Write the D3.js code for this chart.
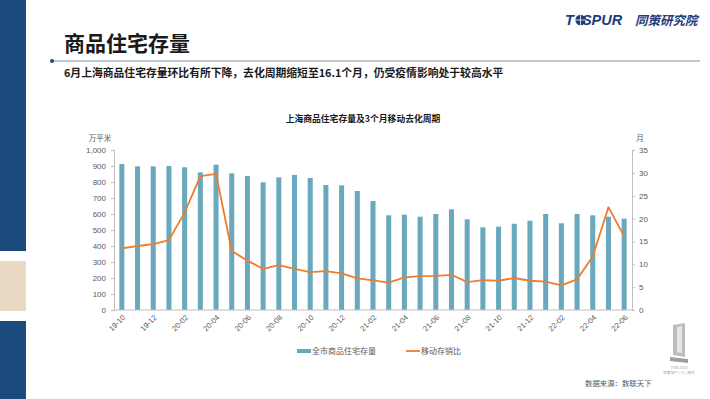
<!DOCTYPE html>
<html>
<head>
<meta charset="utf-8">
<script src="https://cdn.jsdelivr.net/npm/d3@7"></script>
<style>
  body { margin: 0; background: #fff; }
  svg { display: block; font-family: "Open Sans", "Noto Sans CJK SC", sans-serif; }
</style>
</head>
<body>
<script>
const months = ['19-10','19-11','19-12','20-01','20-02','20-03','20-04','20-05','20-06','20-07','20-08',
  '20-09','20-10','20-11','20-12','21-01','21-02','21-03','21-04','21-05','21-06','21-07','21-08',
  '21-09','21-10','21-11','21-12','22-01','22-02','22-03','22-04','22-05','22-06'];
// 全市商品住宅存量 (万平米)
const stock = [912, 898, 898, 900, 892, 860, 908, 854, 837, 798, 829, 844, 825, 781, 779, 744, 681,
  592, 596, 583, 600, 629, 567, 517, 521, 539, 558, 600, 542, 600, 592, 583, 571];
// 移动存销比 (月)
const ratio = [13.5, 14.0, 14.4, 15.3, 21.3, 29.3, 29.8, 12.9, 10.8, 9.0, 9.8, 9.0, 8.3, 8.5, 8.0,
  6.9, 6.5, 6.0, 7.15, 7.4, 7.45, 7.7, 6.1, 6.55, 6.4, 7.0, 6.4, 6.2, 5.4, 6.7, 11.7, 22.5, 16.1];
const leftTicks = [0, 100, 200, 300, 400, 500, 600, 700, 800, 900, 1000];
const rightTicks = [0, 5, 10, 15, 20, 25, 30, 35];
const xLabels = months.filter((d, i) => i % 2 === 0);

const W = 710, H = 399;
const svg = d3.select('body').append('svg').attr('width', W).attr('height', H);

// slide frame
svg.append('rect').attr('x', 0).attr('y', 0).attr('width', 26).attr('height', 251).attr('fill', '#1d4a7c');
svg.append('rect').attr('x', 0).attr('y', 261).attr('width', 26).attr('height', 50).attr('fill', '#e9dac4');
svg.append('rect').attr('x', 0).attr('y', 321).attr('width', 26).attr('height', 78).attr('fill', '#1d4a7c');

svg.append('text').attr('x', 64).attr('y', 51)
  .style('font-size', '21px').style('font-weight', 'bold').attr('fill', '#1a1a1a')
  .style('font-family', '"Noto Sans CJK SC", sans-serif')
  .text('商品住宅存量');
svg.append('line').attr('x1', 52).attr('x2', 700).attr('y1', 61).attr('y2', 61)
  .attr('stroke', '#5b7192').attr('stroke-width', 0.8);
svg.append('circle').attr('cx', 52).attr('cy', 61).attr('r', 2).attr('fill', '#1d4a7c');
svg.append('text').attr('x', 64).attr('y', 77)
  .style('font-size', '10.8px').style('font-weight', 'bold').attr('fill', '#1a1a1a')
  .style('font-family', '"Noto Sans CJK SC", sans-serif')
  .text('6月上海商品住宅存量环比有所下降，去化周期缩短至16.1个月，仍受疫情影响处于较高水平');

// top-right logo
const logo = svg.append('g').attr('transform', 'translate(565,25)');
logo.append('text').attr('x', 0).attr('y', 0)
  .style('font-size', '14.5px').style('font-weight', 'bold').style('font-style', 'italic')
  .style('font-family', '"Liberation Sans", Arial, sans-serif')
  .attr('fill', '#1f3c78').text('T\u00A0\u00A0SPUR');
logo.append('circle').attr('cx', 15.5).attr('cy', -5).attr('r', 5.2).attr('fill', '#1f3c78');
logo.append('line').attr('x1', 10).attr('x2', 21).attr('y1', -5).attr('y2', -5).attr('stroke', '#fff').attr('stroke-width', 0.8);
logo.append('line').attr('x1', 15.5).attr('x2', 15.5).attr('y1', -10).attr('y2', 0).attr('stroke', '#fff').attr('stroke-width', 0.8);
logo.append('text').attr('x', 70).attr('y', -0.5)
  .style('font-size', '12.5px').style('font-weight', 'bold').style('font-style', 'italic')
  .style('font-family', '"Noto Sans CJK SC", sans-serif')
  .attr('fill', '#1f3c78').text('同策研究院');

// chart
const margin = { top: 150, right: 78, bottom: 89, left: 114 };
const width = W - margin.left - margin.right;
const height = H - margin.top - margin.bottom;

svg.append('text').attr('x', 363).attr('y', 122).attr('text-anchor', 'middle')
  .style('font-size', '8.8px').style('font-weight', 'bold').attr('fill', '#1a1a1a')
  .style('font-family', '"Noto Sans CJK SC", sans-serif')
  .text('上海商品住宅存量及3个月移动去化周期');

const g = svg.append('g').attr('transform', `translate(${margin.left},${margin.top})`);

const xScale = d3.scaleBand().domain(months).range([0, width]).paddingInner(0.68).paddingOuter(0.34);
const yLeft = d3.scaleLinear().domain([0, 1000]).range([height, 0]);
const yRight = d3.scaleLinear().domain([0, 35]).range([height, 0]);

g.selectAll('.bar')
  .data(stock)
  .enter()
  .append('rect')
  .attr('class', 'bar')
  .attr('x', (d, i) => xScale(months[i]))
  .attr('width', xScale.bandwidth())
  .attr('y', d => yLeft(d))
  .attr('height', d => height - yLeft(d))
  .attr('fill', '#69a8bd');

const valueline = d3.line()
  .x((d, i) => xScale(months[i]) + xScale.bandwidth() / 2)
  .y(d => yRight(d));

g.append('path')
  .attr('d', valueline(ratio))
  .style('fill', 'none')
  .style('stroke', '#ed7d31')
  .style('stroke-width', 1.8)
  .style('stroke-linejoin', 'round');

const yAxisLeft = d3.axisLeft(yLeft).tickValues(leftTicks).tickSize(3).tickPadding(5)
  .tickFormat(d3.format(','));
const yAxisRight = d3.axisRight(yRight).tickValues(rightTicks).tickSize(3).tickPadding(4);
const xAxis = d3.axisBottom(xScale).tickValues(xLabels).tickSize(0).tickPadding(0);

const styleAxis = sel => {
  sel.select('.domain').attr('stroke', '#bfbfbf');
  sel.selectAll('.tick line').attr('stroke', '#bfbfbf');
  sel.selectAll('.tick text').attr('fill', '#595959').style('font-size', '8px');
};

g.append('g').attr('class', 'y axis').call(yAxisLeft).call(styleAxis);
g.append('g').attr('class', 'y axis right').attr('transform', `translate(${width},0)`)
  .call(yAxisRight).call(styleAxis);
g.append('g').attr('class', 'x axis').attr('transform', `translate(0,${height})`)
  .call(xAxis).call(styleAxis)
  .call(sel => sel.select('.domain').attr('d', `M0,0H${width}`))
  .selectAll('.tick text')
  .attr('text-anchor', 'end')
  .attr('dy', 0)
  .attr('transform', 'translate(4,8) rotate(-45)')
  .style('font-size', '7.6px');

svg.append('text').attr('x', 100).attr('y', 141).attr('text-anchor', 'middle')
  .attr('fill', '#595959').style('font-size', '7.5px').text('万平米');
svg.append('text').attr('x', 640).attr('y', 141).attr('text-anchor', 'middle')
  .attr('fill', '#595959').style('font-size', '7.5px').text('月');

// legend
const legend = svg.append('g').attr('transform', 'translate(297,351)');
legend.append('rect').attr('x', 0).attr('y', -2).attr('width', 14).attr('height', 4).attr('fill', '#69a8bd');
legend.append('text').attr('x', 15).attr('y', 3).attr('fill', '#595959').style('font-size', '8px')
  .text('全市商品住宅存量');
legend.append('line').attr('x1', 109).attr('x2', 123).attr('y1', 0).attr('y2', 0)
  .attr('stroke', '#ed7d31').attr('stroke-width', 1.8);
legend.append('text').attr('x', 124).attr('y', 3).attr('fill', '#595959').style('font-size', '8px')
  .text('移动存销比');

svg.append('text').attr('x', 585).attr('y', 386).attr('fill', '#595959').style('font-size', '7.4px')
  .text('数据来源：数联天下');

// bottom-right anniversary mark
const mark = svg.append('g').attr('transform', 'translate(679,345)');
mark.append('path').attr('d', 'M-6,-20 L6,-22 L6,12 L-6,10 Z').attr('fill', '#bdbdbd');
mark.append('path').attr('d', 'M-2,-18 L3,-19 L3,8 L-2,7 Z').attr('fill', '#e6e6e6');
mark.append('path').attr('d', 'M-9,12 L9,14 L9,18 L-9,16 Z').attr('fill', '#9e9e9e');
mark.append('text').attr('x', 0).attr('y', 24).attr('text-anchor', 'middle')
  .attr('fill', '#9e9e9e').style('font-size', '3.5px').text('1998-2020');
mark.append('text').attr('x', 0).attr('y', 29).attr('text-anchor', 'middle')
  .attr('fill', '#9e9e9e').style('font-size', '3.5px').text('同策地产二十二周年');
</script>
</body>
</html>
